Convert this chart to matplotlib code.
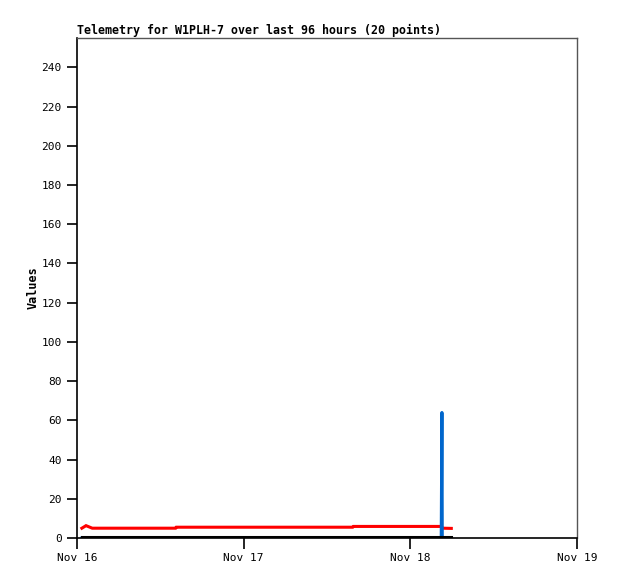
import datetime as dt
import matplotlib
matplotlib.use('Agg')
import matplotlib.pyplot as plt
import matplotlib.dates as mdates

# hours since Nov 16 00:00
hours = [0.7, 1.3, 2.2, 5.0, 8.0, 11.0, 14.2, 14.3, 20.0, 26.0,
         32.0, 38.0, 39.7, 39.8, 45.0, 52.45, 52.5, 52.55, 52.6, 53.9]
red_vals = [5.0, 6.3, 5.0, 5.0, 5.0, 5.0, 5.0, 5.5, 5.5, 5.5,
            5.5, 5.5, 5.5, 5.9, 5.9, 5.9, 5.9, 5.0, 5.0, 4.9]
blue_vals = [0, 0, 0, 0, 0, 0, 0, 0, 0, 0,
             0, 0, 0, 0, 0, 0, 32, 64, 0, 0]
black_vals = [0.7] * 20

title = 'Telemetry for W1PLH-7 over last 96 hours (20 points)'
yticks = list(range(0, 241, 20))

start = dt.datetime(2023, 11, 16)
times = [start + dt.timedelta(hours=h) for h in hours]

plt.rcParams['font.family'] = 'DejaVu Sans Mono'

fig = plt.figure(figsize=(6.18, 5.79), dpi=100)
ax = fig.add_axes([77/618, 41/579, 500/618, 500/579])

ax.plot(times, red_vals, color='#ff0000', lw=2.2, solid_joinstyle='miter')
ax.plot(times, blue_vals, color='#0066cc', lw=2.2)
ax.plot(times, black_vals, color='#000000', lw=2.2)

ax.set_xlim(start, start + dt.timedelta(days=3))
ax.set_ylim(0, 255)
ax.set_yticks(yticks)
ax.xaxis.set_major_locator(mdates.DayLocator())
ax.xaxis.set_major_formatter(mdates.DateFormatter('%b %d'))

ax.tick_params(axis='y', direction='out', length=7, width=1.2,
               labelsize=8, color='black', pad=4)
ax.tick_params(axis='x', direction='out', length=8, width=1.2,
               labelsize=8, color='black', pad=3)
for s in ['left', 'bottom']:
    ax.spines[s].set_color('black')
    ax.spines[s].set_linewidth(1.2)
for s in ['top', 'right']:
    ax.spines[s].set_color('#555555')
    ax.spines[s].set_linewidth(1.0)

ax.set_ylabel('Values', fontsize=8.5, fontweight='bold')
ax.yaxis.set_label_coords(-0.075, 0.5)
ax.set_title(title, fontsize=8.4, fontweight='bold', loc='left', pad=3)

fig.savefig('out.png', dpi=100)
